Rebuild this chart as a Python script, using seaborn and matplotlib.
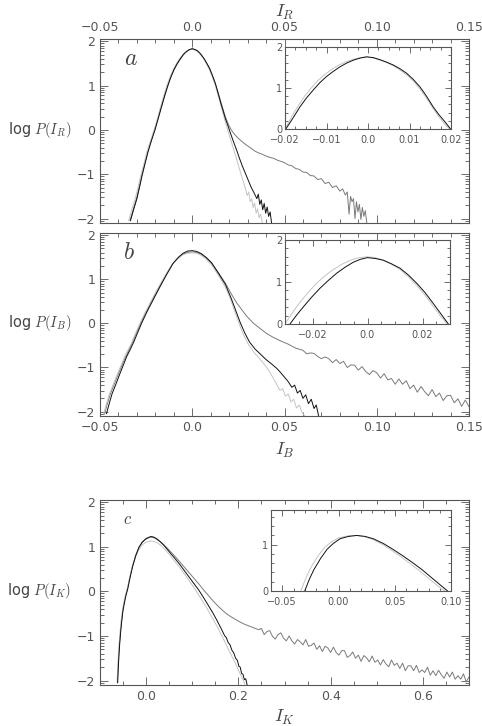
import numpy as np
import matplotlib
matplotlib.use("Agg")
import matplotlib.pyplot as plt
import seaborn as sns
from matplotlib.ticker import FixedLocator, MultipleLocator

# ---- data (x, log P) ----
a_black = [(-0.0335, -2.05), (-0.0318, -1.80), (-0.0300, -1.55), (-0.0285, -1.28), (-0.0273, -1.05),
           (-0.0257, -0.78), (-0.0240, -0.50), (-0.0221, -0.24), (-0.0202, 0.00), (-0.0185, 0.25),
           (-0.0168, 0.50), (-0.0150, 0.76), (-0.0132, 1.00), (-0.0116, 1.19), (-0.0100, 1.35),
           (-0.0082, 1.49), (-0.0065, 1.60), (-0.0048, 1.70), (-0.0033, 1.76), (-0.0016, 1.81),
           (0.0, 1.83), (0.0016, 1.81), (0.0030, 1.78), (0.0046, 1.71), (0.0062, 1.62), (0.0078, 1.51),
           (0.0095, 1.38), (0.0110, 1.22), (0.0125, 1.05), (0.0140, 0.83), (0.0155, 0.60), (0.0168, 0.42),
           (0.0180, 0.25), (0.0193, 0.10), (0.0205, -0.05), (0.0222, -0.25), (0.0240, -0.45),
           (0.0255, -0.63), (0.0270, -0.80), (0.0283, -0.93), (0.0295, -1.05), (0.0308, -1.18),
           (0.0320, -1.30), (0.0335, -1.42), (0.0350, -1.55), (0.0358, -1.45), (0.0366, -1.68),
           (0.0374, -1.58), (0.0382, -1.80), (0.0390, -1.66), (0.0398, -1.88), (0.0406, -1.74),
           (0.0414, -1.95), (0.0422, -1.85), (0.0430, -2.10)]
a_light = [(-0.0345, -2.05), (-0.0328, -1.80), (-0.0309, -1.55), (-0.0293, -1.28), (-0.0280, -1.05),
           (-0.0263, -0.78), (-0.0246, -0.50), (-0.0226, -0.24), (-0.0207, 0.00), (-0.0189, 0.25),
           (-0.0172, 0.52), (-0.0154, 0.78), (-0.0136, 1.02), (-0.0119, 1.21), (-0.0102, 1.37),
           (-0.0084, 1.51), (-0.0066, 1.62), (-0.0049, 1.71), (-0.0033, 1.77), (-0.0016, 1.81),
           (0.0, 1.82), (0.0016, 1.80), (0.0030, 1.76), (0.0046, 1.69), (0.0062, 1.60), (0.0078, 1.48),
           (0.0095, 1.34), (0.0110, 1.18), (0.0125, 1.00), (0.0140, 0.78), (0.0155, 0.55), (0.0168, 0.35),
           (0.0180, 0.17), (0.0192, 0.00), (0.0205, -0.18), (0.0220, -0.38), (0.0235, -0.58),
           (0.0250, -0.80), (0.0263, -0.98), (0.0276, -1.16), (0.0288, -1.32), (0.0298, -1.48),
           (0.0306, -1.40), (0.0314, -1.62), (0.0322, -1.55), (0.0330, -1.75), (0.0338, -1.65),
           (0.0346, -1.88), (0.0354, -1.78), (0.0362, -1.98), (0.0370, -1.90), (0.0380, -2.10)]
a_mid = [(-0.0338, -2.05), (-0.0320, -1.80), (-0.0302, -1.55), (-0.0287, -1.28), (-0.0275, -1.05),
         (-0.0259, -0.78), (-0.0242, -0.50), (-0.0223, -0.24), (-0.0204, 0.00), (-0.0186, 0.25),
         (-0.0169, 0.50), (-0.0151, 0.76), (-0.0133, 1.00), (-0.0117, 1.19), (-0.0100, 1.35),
         (-0.0082, 1.49), (-0.0065, 1.60), (-0.0048, 1.70), (-0.0033, 1.76), (-0.0016, 1.81),
         (0.0, 1.83), (0.0016, 1.81), (0.0030, 1.77), (0.0046, 1.70), (0.0062, 1.61), (0.0078, 1.50),
         (0.0095, 1.37), (0.0110, 1.21), (0.0125, 1.04), (0.0140, 0.84), (0.0155, 0.63), (0.0168, 0.45),
         (0.0180, 0.29), (0.0195, 0.13), (0.0210, 0.01), (0.0225, -0.08), (0.0240, -0.15),
         (0.0260, -0.23), (0.0280, -0.30), (0.0300, -0.36), (0.0320, -0.42), (0.0340, -0.48),
         (0.0360, -0.52), (0.0380, -0.55), (0.0400, -0.59), (0.0420, -0.62), (0.0440, -0.64),
         (0.0460, -0.68), (0.0480, -0.71), (0.0500, -0.74), (0.0520, -0.79), (0.0540, -0.81),
         (0.0560, -0.87), (0.0580, -0.89), (0.0600, -0.95), (0.0620, -0.96), (0.0640, -1.03),
         (0.0660, -1.04), (0.0680, -1.12), (0.0700, -1.10), (0.0720, -1.21), (0.0740, -1.18),
         (0.0760, -1.30), (0.0780, -1.26), (0.0800, -1.38), (0.0815, -1.33), (0.0830, -1.47),
         (0.0840, -1.40), (0.0850, -1.90), (0.0858, -1.50), (0.0866, -1.62), (0.0874, -1.55),
         (0.0882, -2.00), (0.0890, -1.62), (0.0898, -1.85), (0.0906, -1.68), (0.0914, -2.02),
         (0.0922, -1.75), (0.0930, -1.95), (0.0938, -1.82), (0.0946, -2.10)]

b_black = [(-0.0465, -2.05), (-0.0450, -1.82), (-0.0435, -1.60), (-0.0413, -1.37), (-0.0392, -1.14),
           (-0.0373, -0.94), (-0.0355, -0.75), (-0.0337, -0.60), (-0.0320, -0.45), (-0.0298, -0.23),
           (-0.0275, 0.00), (-0.0247, 0.25), (-0.0210, 0.55), (-0.0175, 0.83), (-0.0140, 1.10),
           (-0.0104, 1.36), (-0.0075, 1.50), (-0.0050, 1.59), (-0.0025, 1.64), (0.0, 1.65),
           (0.0025, 1.63), (0.0050, 1.58), (0.0077, 1.49), (0.0104, 1.38), (0.0140, 1.15),
           (0.0180, 0.88), (0.0210, 0.58), (0.0235, 0.30), (0.0260, 0.02), (0.0285, -0.22),
           (0.0310, -0.42), (0.0340, -0.58), (0.0370, -0.70), (0.0400, -0.82), (0.0430, -0.92),
           (0.0458, -1.02), (0.0480, -1.12), (0.0500, -1.22), (0.0520, -1.32), (0.0540, -1.45),
           (0.0555, -1.40), (0.0570, -1.58), (0.0585, -1.52), (0.0600, -1.70), (0.0615, -1.62),
           (0.0630, -1.82), (0.0645, -1.72), (0.0660, -1.93), (0.0672, -1.85), (0.0685, -2.10)]
b_light = [(-0.0480, -2.05), (-0.0465, -1.82), (-0.0449, -1.60), (-0.0427, -1.37), (-0.0405, -1.14),
           (-0.0385, -0.94), (-0.0366, -0.75), (-0.0348, -0.60), (-0.0330, -0.45), (-0.0307, -0.22),
           (-0.0284, 0.00), (-0.0255, 0.25), (-0.0218, 0.55), (-0.0182, 0.83), (-0.0146, 1.09),
           (-0.0110, 1.33), (-0.0080, 1.46), (-0.0053, 1.55), (-0.0026, 1.59), (0.0, 1.60),
           (0.0025, 1.59), (0.0050, 1.54), (0.0077, 1.45), (0.0104, 1.33), (0.0140, 1.10),
           (0.0180, 0.82), (0.0210, 0.52), (0.0235, 0.22), (0.0258, -0.05), (0.0280, -0.28),
           (0.0305, -0.48), (0.0335, -0.66), (0.0365, -0.80), (0.0395, -0.95), (0.0420, -1.10),
           (0.0440, -1.25), (0.0460, -1.40), (0.0475, -1.52), (0.0490, -1.48), (0.0505, -1.65),
           (0.0520, -1.60), (0.0535, -1.78), (0.0550, -1.72), (0.0565, -1.92), (0.0580, -1.85),
           (0.0595, -2.02), (0.0610, -2.10)]
b_mid_core = [(-0.0475, -2.05), (-0.0460, -1.82), (-0.0444, -1.60), (-0.0422, -1.37), (-0.0400, -1.14),
              (-0.0380, -0.94), (-0.0361, -0.75), (-0.0343, -0.60), (-0.0326, -0.45), (-0.0303, -0.22),
              (-0.0280, 0.00), (-0.0251, 0.25), (-0.0214, 0.55), (-0.0179, 0.83), (-0.0143, 1.10),
              (-0.0107, 1.35), (-0.0077, 1.48), (-0.0051, 1.57), (-0.0025, 1.61), (0.0, 1.62),
              (0.0025, 1.61), (0.0050, 1.56), (0.0077, 1.48), (0.0104, 1.37), (0.0140, 1.16),
              (0.0180, 0.91), (0.0210, 0.68), (0.0240, 0.47), (0.0270, 0.30), (0.0300, 0.14),
              (0.0330, 0.01), (0.0360, -0.09), (0.0400, -0.22), (0.0440, -0.32), (0.0480, -0.40),
              (0.0520, -0.47), (0.0560, -0.56)]
# noisy tail, histogram bins 0.060 ... 0.150
b_mid_tail_bins = (0.060, 0.150, 46)
b_mid_tail = [-0.61, -0.69, -0.67, -0.68, -0.75, -0.80, -0.76, -0.80, -0.89, -0.82,
              -0.91, -0.86, -1.00, -0.94, -0.95, -1.06, -0.98, -1.09, -1.16, -1.07,
              -1.12, -1.24, -1.14, -1.28, -1.25, -1.38, -1.26, -1.38, -1.30, -1.48,
              -1.40, -1.56, -1.43, -1.55, -1.64, -1.50, -1.66, -1.58, -1.75, -1.64,
              -1.63, -1.80, -1.71, -1.88, -1.74, -1.89]

c_black = [(-0.0617, -2.05), (-0.0605, -1.75), (-0.0590, -1.45), (-0.0572, -1.16), (-0.0551, -0.90),
           (-0.0528, -0.66), (-0.0500, -0.42), (-0.0470, -0.25), (-0.0435, -0.08), (-0.0400, 0.05),
           (-0.0350, 0.30), (-0.0295, 0.55), (-0.0225, 0.80), (-0.0150, 1.00), (-0.0080, 1.11),
           (-0.0006, 1.18), (0.0050, 1.21), (0.0100, 1.23), (0.0160, 1.22), (0.0230, 1.18),
           (0.0300, 1.12), (0.0380, 1.04), (0.0460, 0.94), (0.0540, 0.84), (0.0640, 0.72),
           (0.0740, 0.59), (0.0840, 0.45), (0.0940, 0.31), (0.1040, 0.17), (0.1140, 0.03),
           (0.1240, -0.13), (0.1340, -0.30), (0.1440, -0.47), (0.1530, -0.64), (0.1620, -0.82),
           (0.1700, -0.99), (0.1740, -1.04), (0.1780, -1.15), (0.1820, -1.20), (0.1860, -1.32),
           (0.1900, -1.38), (0.1940, -1.50), (0.1980, -1.55), (0.2010, -1.68), (0.2040, -1.70),
           (0.2070, -1.84), (0.2100, -1.86), (0.2130, -1.98), (0.2160, -1.96), (0.2190, -2.10)]
c_light = [(-0.0630, -2.05), (-0.0618, -1.75), (-0.0603, -1.45), (-0.0585, -1.16), (-0.0564, -0.90),
           (-0.0541, -0.66), (-0.0513, -0.42), (-0.0483, -0.25), (-0.0448, -0.08), (-0.0413, 0.05),
           (-0.0362, 0.29), (-0.0305, 0.53), (-0.0233, 0.76), (-0.0158, 0.94), (-0.0085, 1.04),
           (-0.0010, 1.10), (0.0050, 1.12), (0.0110, 1.13), (0.0170, 1.12), (0.0240, 1.09),
           (0.0310, 1.04), (0.0390, 0.96), (0.0470, 0.87), (0.0550, 0.77), (0.0640, 0.65),
           (0.0740, 0.52), (0.0840, 0.38), (0.0940, 0.23), (0.1040, 0.08), (0.1140, -0.08),
           (0.1240, -0.25), (0.1340, -0.42), (0.1440, -0.60), (0.1530, -0.77), (0.1620, -0.95),
           (0.1700, -1.12), (0.1780, -1.29), (0.1860, -1.46), (0.1920, -1.58), (0.1980, -1.72),
           (0.2040, -1.85), (0.2100, -1.98), (0.2140, -2.08)]
c_mid_core = [(-0.0622, -2.05), (-0.0610, -1.75), (-0.0595, -1.45), (-0.0577, -1.16), (-0.0556, -0.90),
              (-0.0533, -0.66), (-0.0505, -0.42), (-0.0475, -0.25), (-0.0440, -0.08), (-0.0405, 0.05),
              (-0.0355, 0.30), (-0.0300, 0.55), (-0.0230, 0.80), (-0.0155, 0.99), (-0.0085, 1.10),
              (-0.0010, 1.17), (0.0050, 1.20), (0.0100, 1.22), (0.0160, 1.21), (0.0230, 1.17),
              (0.0300, 1.12), (0.0380, 1.05), (0.0460, 0.97), (0.0540, 0.88), (0.0640, 0.77),
              (0.0740, 0.65), (0.0840, 0.53), (0.0940, 0.41), (0.1040, 0.29), (0.1140, 0.17),
              (0.1240, 0.04), (0.1340, -0.08), (0.1440, -0.20), (0.1540, -0.31), (0.1640, -0.41),
              (0.1740, -0.50), (0.1840, -0.57), (0.1940, -0.63), (0.2040, -0.69), (0.2140, -0.74),
              (0.2240, -0.78), (0.2340, -0.82), (0.2440, -0.86)]
# noisy tail, histogram bins 0.25 ... 0.70
c_mid_tail_bins = (0.25, 0.70, 76)
c_mid_tail = [-0.83, -0.97, -0.90, -0.88, -1.01, -1.07, -0.97, -0.93, -1.05, -1.11,
              -1.00, -1.11, -1.18, -1.08, -1.13, -1.20, -1.08, -1.23, -1.21, -1.16,
              -1.30, -1.22, -1.35, -1.23, -1.27, -1.37, -1.25, -1.37, -1.43, -1.33,
              -1.33, -1.48, -1.44, -1.36, -1.50, -1.43, -1.57, -1.44, -1.49, -1.58,
              -1.45, -1.59, -1.54, -1.65, -1.53, -1.63, -1.69, -1.54, -1.66, -1.61,
              -1.73, -1.61, -1.78, -1.67, -1.67, -1.78, -1.66, -1.82, -1.76, -1.82,
              -1.70, -1.88, -1.78, -1.89, -1.77, -1.87, -1.95, -1.81, -1.92, -1.81,
              -1.97, -1.89, -1.97, -1.85, -2.03, -1.92]

# insets
ia_black = [(-0.0198, 0.0), (-0.0180, 0.28), (-0.0164, 0.54), (-0.0148, 0.76), (-0.0132, 0.95),
            (-0.0116, 1.13), (-0.0100, 1.28), (-0.0083, 1.41), (-0.0067, 1.52), (-0.0051, 1.61),
            (-0.0035, 1.68), (-0.0019, 1.73), (-0.0003, 1.76), (0.0013, 1.74), (0.0029, 1.69),
            (0.0045, 1.63), (0.0061, 1.56), (0.0077, 1.47), (0.0093, 1.36), (0.0109, 1.21),
            (0.0125, 1.03), (0.0141, 0.80), (0.0157, 0.54), (0.0170, 0.36), (0.0185, 0.18), (0.0199, 0.0)]
ia_light = [(-0.0200, 0.0), (-0.0184, 0.30), (-0.0168, 0.57), (-0.0152, 0.81), (-0.0136, 1.01),
            (-0.0120, 1.19), (-0.0104, 1.33), (-0.0087, 1.46), (-0.0070, 1.56), (-0.0053, 1.64),
            (-0.0036, 1.70), (-0.0019, 1.74), (-0.0003, 1.76), (0.0013, 1.73), (0.0029, 1.68),
            (0.0045, 1.62), (0.0061, 1.54), (0.0077, 1.44), (0.0093, 1.32), (0.0109, 1.17),
            (0.0125, 0.98), (0.0141, 0.75), (0.0157, 0.50), (0.0170, 0.31), (0.0184, 0.13), (0.0196, 0.0)]
ib_black = [(-0.0282, 0.0), (-0.0258, 0.21), (-0.0233, 0.41), (-0.0203, 0.64), (-0.0173, 0.85),
            (-0.0142, 1.04), (-0.0112, 1.21), (-0.0082, 1.35), (-0.0052, 1.47), (-0.0026, 1.54),
            (0.0, 1.58), (0.0028, 1.56), (0.0057, 1.52), (0.0088, 1.43), (0.0118, 1.33),
            (0.0148, 1.17), (0.0179, 0.97), (0.0209, 0.75), (0.0239, 0.49), (0.0266, 0.25), (0.0294, 0.0)]
ib_light = [(-0.0300, 0.0), (-0.0275, 0.25), (-0.0250, 0.48), (-0.0220, 0.72), (-0.0190, 0.94),
            (-0.0158, 1.13), (-0.0126, 1.29), (-0.0094, 1.42), (-0.0062, 1.52), (-0.0031, 1.58),
            (0.0, 1.60), (0.0028, 1.58), (0.0057, 1.52), (0.0088, 1.42), (0.0118, 1.30),
            (0.0148, 1.13), (0.0179, 0.92), (0.0209, 0.69), (0.0239, 0.42), (0.0264, 0.20), (0.0290, 0.0)]
ic_black = [(-0.0300, 0.0), (-0.0260, 0.25), (-0.0219, 0.46), (-0.0160, 0.70), (-0.0102, 0.90),
            (-0.0045, 1.03), (0.0015, 1.13), (0.0090, 1.18), (0.0162, 1.20), (0.0235, 1.18),
            (0.0308, 1.13), (0.0396, 1.03), (0.0484, 0.90), (0.0572, 0.76), (0.0660, 0.61),
            (0.0748, 0.45), (0.0836, 0.27), (0.0910, 0.12), (0.0985, -0.03)]
ic_light = [(-0.0335, 0.0), (-0.0295, 0.25), (-0.0252, 0.48), (-0.0190, 0.73), (-0.0128, 0.93),
            (-0.0065, 1.06), (0.0005, 1.15), (0.0080, 1.19), (0.0162, 1.20), (0.0235, 1.17),
            (0.0308, 1.11), (0.0396, 1.00), (0.0484, 0.86), (0.0572, 0.71), (0.0660, 0.55),
            (0.0748, 0.38), (0.0836, 0.20), (0.0910, 0.06), (0.0960, -0.03)]

# ticks / labels
main_y_ticks = [-2, -1, 0, 1, 2]
main_y_labels = ["\u22122", "\u22121", "0", "1", "2"]
ab_x_ticks = [-0.05, 0.0, 0.05, 0.10, 0.15]
ab_x_labels = ["\u22120.05", "0.0", "0.05", "0.10", "0.15"]
c_x_ticks = [0.0, 0.2, 0.4, 0.6]
c_x_labels = ["0.0", "0.2", "0.4", "0.6"]
ia_x_ticks = [-0.02, -0.01, 0.0, 0.01, 0.02]
ia_x_labels = ["\u22120.02", "\u22120.01", "0.0", "0.01", "0.02"]
ib_x_ticks = [-0.02, 0.0, 0.02]
ib_x_labels = ["\u22120.02", "0.0", "0.02"]
ic_x_ticks = [-0.05, 0.0, 0.05, 0.10]
ic_x_labels = ["\u22120.05", "0.00", "0.05", "0.10"]

BLACK, LIGHT, MID = "#111111", "#c4c4c4", "#7a7a7a"
EDGE = "#555555"

sns.set_style("ticks")
plt.rcParams.update({
    "font.family": ["DejaVu Sans"],
    "mathtext.fontset": "cm",
    "axes.edgecolor": EDGE,
    "axes.linewidth": 0.8,
    "xtick.color": EDGE,
    "ytick.color": EDGE,
    "text.color": "#444444",
    "axes.labelcolor": "#444444",
})


def xy(pts):
    arr = np.array(pts)
    return arr[:, 0], arr[:, 1]


def tail(core, bins, vals):
    x0, x1, n = bins
    cx, cy = xy(core)
    return np.concatenate([cx, np.linspace(x0, x1, n)]), np.concatenate([cy, vals])


def draw(ax, curves):
    for (x, y), col in curves:
        sns.lineplot(x=x, y=y, ax=ax, color=col, lw=0.7, sort=False, estimator=None)
    ax.set_xlabel("")
    ax.set_ylabel("")


def style(ax, xlim, ylim, xticks, xlabels, xminor, yticks, ylabels, yminor, fs, maj=6, mnr=3):
    ax.set_xlim(*xlim)
    ax.set_ylim(*ylim)
    ax.xaxis.set_major_locator(FixedLocator(xticks))
    ax.set_xticklabels(xlabels)
    ax.xaxis.set_minor_locator(MultipleLocator(xminor))
    ax.yaxis.set_major_locator(FixedLocator(yticks))
    ax.set_yticklabels(ylabels)
    if isinstance(yminor, list):
        ax.yaxis.set_minor_locator(FixedLocator(yminor))
    else:
        ax.yaxis.set_minor_locator(MultipleLocator(yminor))
    ax.tick_params(which="both", direction="in", top=True, right=True, width=0.6,
                   labelsize=fs, labelcolor="#555555")
    ax.tick_params(which="major", length=maj)
    ax.tick_params(which="minor", length=mnr)
    for s in ax.spines.values():
        s.set_color(EDGE)
        s.set_linewidth(0.8)


log_minor = [n + np.log10(k) for n in range(-3, 2) for k in range(2, 10)]

fig = plt.figure(figsize=(4.82, 7.26), dpi=100)
W, H = 482, 726


def box(l, t, r, b):
    return [l / W, 1 - b / H, (r - l) / W, (b - t) / H]


ax_a = fig.add_axes(box(100, 39, 469, 223))
ax_b = fig.add_axes(box(100, 233, 469, 416))
ax_c = fig.add_axes(box(100, 500, 469, 685))
in_a = fig.add_axes(box(285, 47, 451, 129))
in_b = fig.add_axes(box(285, 240, 450, 324))
in_c = fig.add_axes(box(271, 510, 451, 591))

YL = (-2.1, 2.05)

draw(ax_a, [(xy(a_mid), MID), (xy(a_light), LIGHT), (xy(a_black), BLACK)])
draw(ax_b, [(tail(b_mid_core, b_mid_tail_bins, b_mid_tail), MID), (xy(b_light), LIGHT), (xy(b_black), BLACK)])
draw(ax_c, [(tail(c_mid_core, c_mid_tail_bins, c_mid_tail), MID), (xy(c_light), LIGHT), (xy(c_black), BLACK)])
draw(in_a, [(xy(ia_light), LIGHT), (xy(ia_black), BLACK)])
draw(in_b, [(xy(ib_light), LIGHT), (xy(ib_black), BLACK)])
draw(in_c, [(xy(ic_light), LIGHT), (xy(ic_black), BLACK)])

for ax, xl, xt, xlab, xm in [(ax_a, (-0.05, 0.15), ab_x_ticks, ab_x_labels, 0.01),
                             (ax_b, (-0.05, 0.15), ab_x_ticks, ab_x_labels, 0.01),
                             (ax_c, (-0.1, 0.7), c_x_ticks, c_x_labels, 0.05)]:
    style(ax, xl, YL, xt, xlab, xm, main_y_ticks, main_y_labels, log_minor, 9)

style(in_a, (-0.02, 0.02), (0, 2), ia_x_ticks, ia_x_labels, 0.0025, [0, 1, 2], ["0", "1", "2"], 0.2, 7, 4, 2)
style(in_b, (-0.03, 0.03), (0, 2), ib_x_ticks, ib_x_labels, 0.005, [0, 1, 2], ["0", "1", "2"], 0.2, 7, 4, 2)
style(in_c, (-0.06, 0.10), (0, 1.75), ic_x_ticks, ic_x_labels, 0.01, [0, 1], ["0", "1"], 0.2, 7, 4, 2)
for ax in (in_a, in_b, in_c):
    ax.tick_params(axis="x", pad=4)
    ax.tick_params(axis="y", pad=2)

# panel a: labels on top
ax_a.tick_params(labeltop=True, labelbottom=False)
ax_a.xaxis.set_label_position("top")
ax_a.set_xlabel(r"$I_R$", fontsize=13, labelpad=3)
ax_b.set_xlabel(r"$I_B$", fontsize=13, labelpad=5)
ax_c.set_xlabel(r"$I_K$", fontsize=13, labelpad=4)

for ax, lab in [(ax_a, r"log $P(I_R)$"), (ax_b, r"log $P(I_B)$"), (ax_c, r"log $P(I_K)$")]:
    ax.set_ylabel(lab, rotation=0, fontsize=10.5, ha="right", va="center")
    ax.yaxis.set_label_coords(-0.078, (0 - YL[0]) / (YL[1] - YL[0]))

ax_a.text(0.065, 0.895, r"$a$", transform=ax_a.transAxes, fontsize=17, va="center")
ax_b.text(0.062, 0.895, r"$b$", transform=ax_b.transAxes, fontsize=17, va="center")
ax_c.text(0.062, 0.895, r"$c$", transform=ax_c.transAxes, fontsize=12, va="center")

fig.savefig("out.png", dpi=100)
